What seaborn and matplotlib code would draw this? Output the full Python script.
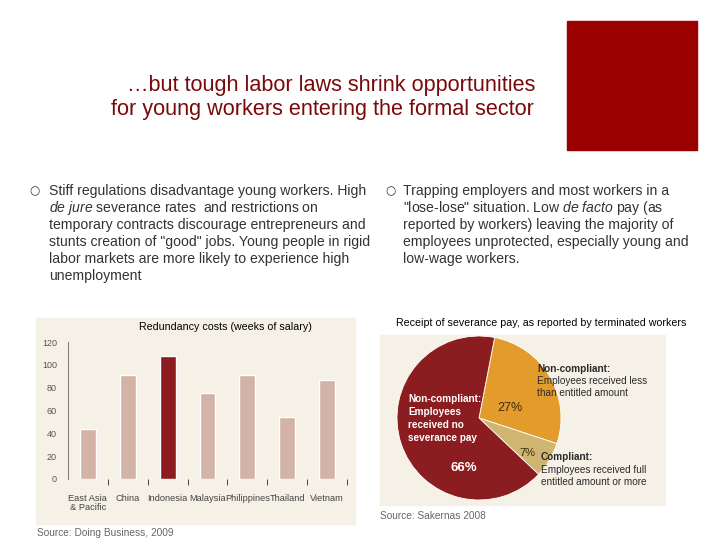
import numpy as np
import pandas as pd
import seaborn as sns
import matplotlib.pyplot as plt
from matplotlib.patches import Rectangle

# bar chart data (Doing Business, 2009)
countries = ['East Asia\n& Pacific', 'China', 'Indonesia', 'Malaysia', 'Philippines', 'Thailand', 'Vietnam']
weeks = [44, 91, 108, 75, 91, 54, 87]
y_ticks = [0, 20, 40, 60, 80, 100, 120]

# pie data (Sakernas 2008)
pie_labels = ['less than entitled', 'full or more', 'no severance pay']
pie_shares = [27, 7, 66]

sns.set_theme(style='white')
plt.rcParams['font.family'] = ['Liberation Sans', 'DejaVu Sans']
plt.rcParams['mathtext.fontset'] = 'custom'
plt.rcParams['mathtext.it'] = 'Liberation Sans:italic'
plt.rcParams['mathtext.rm'] = 'Liberation Sans'

W, H = 720, 540
fig = plt.figure(figsize=(7.2, 5.4), dpi=100)
fig.patch.set_facecolor('white')


def fx(x):
    return x / W


def fy(y):
    return 1 - y / H


def box(x0, y0, x1, y1):
    return [fx(x0), fy(y1), (x1 - x0) / W, (y1 - y0) / H]


# red block top right
fig.patches.append(Rectangle((fx(567), fy(150)), 130 / W, 129 / H,
                             transform=fig.transFigure, color='#9b0000', zorder=-1))

# title
title_col = '#7a0a0a'
fig.text(fx(127), fy(85), '\u2026but tough labor laws shrink opportunities',
         fontsize=15.6, color=title_col, va='center', ha='left')
fig.text(fx(111), fy(110), 'for young workers entering the formal sector',
         fontsize=15.6, color=title_col, va='center', ha='left')

# bullet text
txt_col = '#333333'
left_lines = ['Stiff regulations disadvantage young workers. High',
              r'$\it{de\ jure}$ severance rates  and restrictions on',
              'temporary contracts discourage entrepreneurs and',
              'stunts creation of "good" jobs. Young people in rigid',
              'labor markets are more likely to experience high',
              'unemployment']
right_lines = ['Trapping employers and most workers in a',
               r'"lose-lose" situation. Low $\it{de\ facto}$ pay (as',
               'reported by workers) leaving the majority of',
               'employees unprotected, especially young and',
               'low-wage workers.']
for i, line in enumerate(left_lines):
    fig.text(fx(49), fy(191 + 17 * i), line, fontsize=10.1, color=txt_col, va='center')
for i, line in enumerate(right_lines):
    fig.text(fx(403), fy(191 + 17 * i), line, fontsize=10.1, color=txt_col, va='center')
for bx in (35, 391):
    fig.text(fx(bx), fy(191), '\u25cb', fontsize=8.5, color=txt_col, va='center', ha='center',
             family='DejaVu Sans')

# ---- bar chart panel ----
beige = '#f6f1e6'
fig.patches.append(Rectangle((fx(36), fy(524)), 319 / W, 206 / H,
                             transform=fig.transFigure, color=beige, zorder=-1))
fig.text(fx(225), fy(327), 'Redundancy costs (weeks of salary)', fontsize=7.7,
         color='black', ha='center', va='center')

ax = fig.add_axes(box(68, 342, 347, 479))
ax.set_facecolor('none')
df = pd.DataFrame({'country': countries, 'weeks': weeks})
pal = ['#8b1c1f' if c == 'Indonesia' else '#d4b3a7' for c in countries]
sns.barplot(data=df, x='country', y='weeks', hue='country', palette=pal,
            width=0.4, legend=False, ax=ax, saturation=1)
ax.set_xlim(-0.5, len(countries) - 0.5)
ax.set_ylim(0, 120)
ax.set_yticks(y_ticks)
ax.set_xlabel('')
ax.set_ylabel('')
sns.despine(ax=ax, bottom=True)
ax.spines['left'].set_color('#777777')
ax.spines['left'].set_linewidth(0.7)
ax.tick_params(axis='y', labelsize=6.5, labelcolor='#555555', length=0, pad=8)
ax.tick_params(axis='x', labelsize=6.7, labelcolor='#444444', length=0, pad=11)
ax.set_xticks(np.arange(len(countries)) + 0.5, minor=True)
ax.tick_params(axis='x', which='minor', bottom=True, length=4, width=0.7,
               color='#444444', direction='out')
for lab in ax.get_xticklabels():
    lab.set_linespacing(1.0)
fig.text(fx(37), fy(533), 'Source: Doing Business, 2009', fontsize=7.3,
         color='#666666', va='center')

# ---- pie panel ----
fig.patches.append(Rectangle((fx(380), fy(505)), 285 / W, 170 / H,
                             transform=fig.transFigure, color=beige, zorder=-1))
fig.text(fx(541), fy(323), 'Receipt of severance pay, as reported by terminated workers',
         fontsize=7.7, color='black', ha='center', va='center')

pax = fig.add_axes(box(397, 336, 561, 500))
pie_cols = ['#e39b2c', '#cfb56f', '#8b1c1f']
pax.pie(pie_shares, colors=pie_cols, startangle=79, counterclock=False,
        wedgeprops=dict(edgecolor='white', linewidth=0.6))
pax.set_xlim(-1.0, 1.0)
pax.set_ylim(-1.0, 1.0)
pax.set_aspect('equal')
pax.axis('off')

lab_font = ['Liberation Sans', 'DejaVu Sans']
lab_size = 7.2
fig.text(fx(408), fy(399), 'Non-compliant:', fontsize=lab_size, weight='bold',
         color='white', va='center', family=lab_font)
for i, s in enumerate(['Employees', 'received no', 'severance pay']):
    fig.text(fx(408), fy(412 + 13 * i), s, fontsize=lab_size, weight='bold',
             color='white', va='center', family=lab_font)
fig.text(fx(464), fy(468), f'{pie_shares[2]}%', fontsize=9.5, weight='bold',
         color='white', ha='center', va='center', family=lab_font)
fig.text(fx(510), fy(408), f'{pie_shares[0]}%', fontsize=9, color='#3a2a10',
         ha='center', va='center', family=lab_font)
fig.text(fx(527), fy(453), f'{pie_shares[1]}%', fontsize=8, color='#3a2a10',
         ha='center', va='center', family=lab_font)

fig.text(fx(537), fy(369), 'Non-compliant:', fontsize=lab_size, weight='bold',
         color='#2a2a2a', va='center', family=lab_font)
fig.text(fx(537), fy(381), 'Employees received less', fontsize=lab_size,
         color='#2a2a2a', va='center', family=lab_font)
fig.text(fx(537), fy(393), 'than entitled amount', fontsize=lab_size,
         color='#2a2a2a', va='center', family=lab_font)
fig.text(fx(541), fy(457), 'Compliant:', fontsize=lab_size, weight='bold',
         color='#2a2a2a', va='center', family=lab_font)
fig.text(fx(541), fy(470), 'Employees received full', fontsize=lab_size,
         color='#2a2a2a', va='center', family=lab_font)
fig.text(fx(541), fy(482), 'entitled amount or more', fontsize=lab_size,
         color='#2a2a2a', va='center', family=lab_font)
fig.text(fx(380), fy(516), 'Source: Sakernas 2008', fontsize=7.3,
         color='#666666', va='center')

fig.savefig('out.png', dpi=100)
